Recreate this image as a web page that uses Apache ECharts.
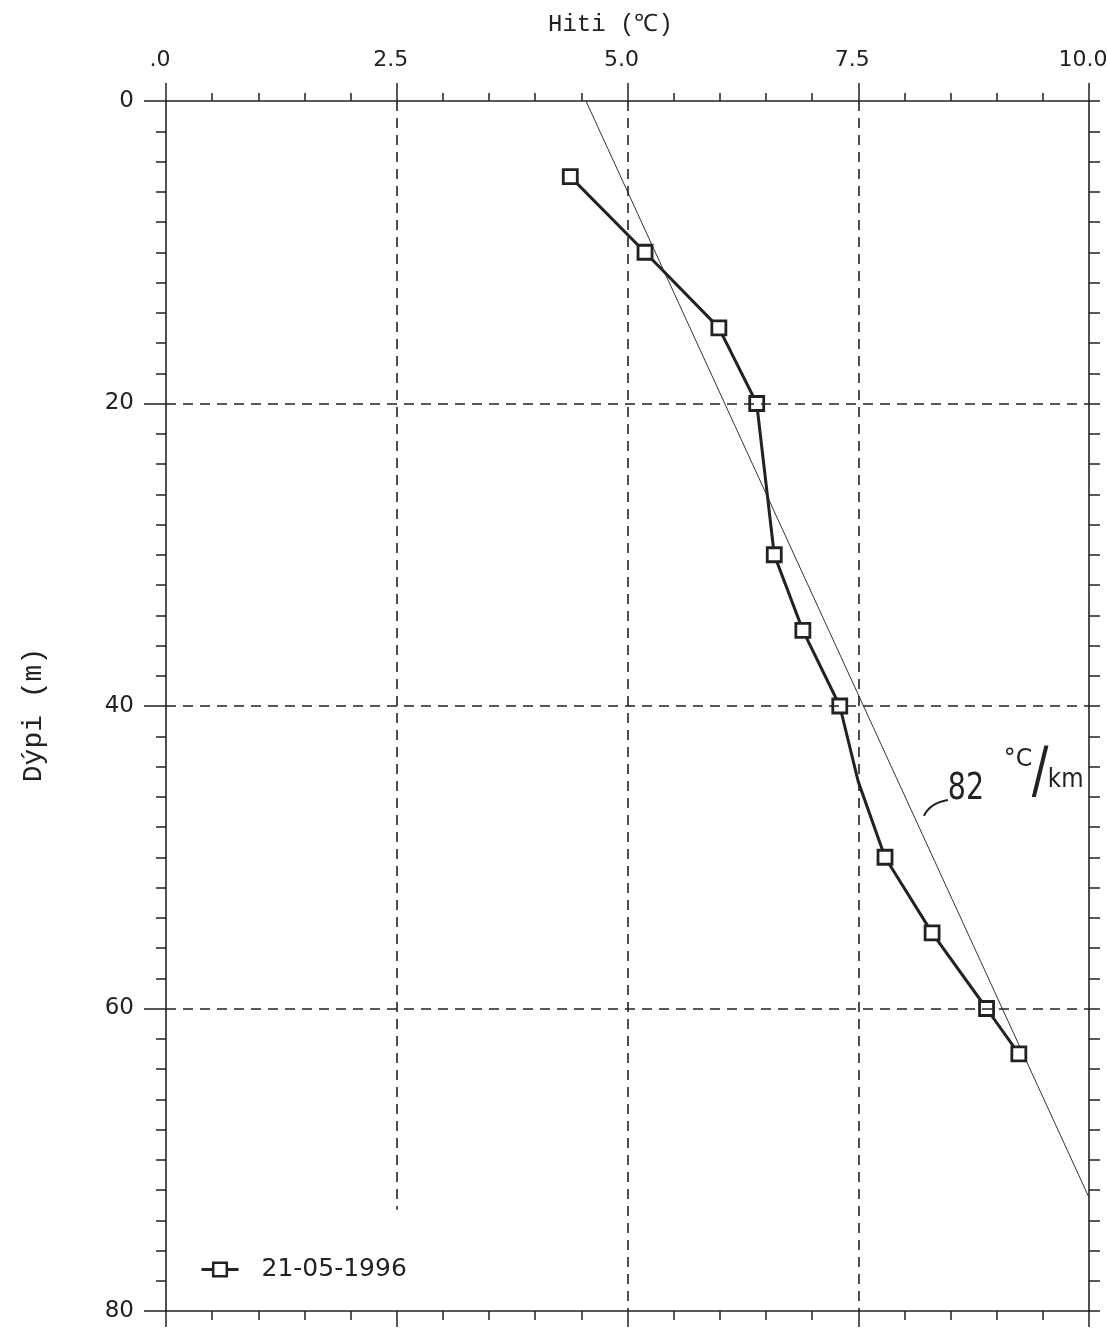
<!DOCTYPE html>
<html>
<head>
<meta charset="utf-8">
<script src="https://cdn.jsdelivr.net/npm/echarts@6/dist/echarts.min.js"></script>
<style>
  html, body { margin: 0; padding: 0; background: #fff; }
  #chart { width: 1107px; height: 1328px; }
</style>
</head>
<body>
<div id="chart"></div>
<script>
// measured temperature profile, 21-05-1996
const temps  = [4.38, 5.19, 5.99, 6.40, 6.59, 6.90, 7.30, 7.50, 7.79, 8.30, 8.89, 9.24];
const depths = [5, 10, 15, 20, 30, 35, 40, 45, 50, 55, 60, 63];
const unmarkedDepths = [45]; // bend in the line with no square drawn

// hand drawn gradient line (82 C/km)
const fitTemps  = [4.55, 10.0];
const fitDepths = [0, 72.5];

const tempTicks = [0, 2.5, 5, 7.5, 10];
const depthTicks = [0, 20, 40, 60, 80];
const vGridTemps = [2.5, 5, 7.5];
const vGridEnds  = [73.3, 80, 80];
const hGridDepths = [20, 40, 60];
const noteAt = [8.2, 47.2];

const ink = '#222';
const labelFont = 'DejaVu Sans';
const monoFont = 'Liberation Mono';

const profile = temps.map((t, i) => {
  const item = { value: [t, depths[i]] };
  if (unmarkedDepths.includes(depths[i])) item.symbol = 'none';
  return item;
});
const fit = fitTemps.map((t, i) => [t, fitDepths[i]]);
const gridLines = vGridTemps.map((t, i) => [{ coord: [t, 0] }, { coord: [t, vGridEnds[i]] }])
  .concat(hGridDepths.map(d => [{ coord: [tempTicks[0], d] }, { coord: [tempTicks[tempTicks.length - 1], d] }]));

const chart = echarts.init(document.getElementById('chart'));

const xBase = {
  type: 'value', min: tempTicks[0], max: tempTicks[tempTicks.length - 1], interval: 2.5,
  axisLine: { show: true, onZero: false, lineStyle: { color: ink, width: 1.6 } },
  splitLine: { show: false }
};
const yBase = {
  type: 'value', inverse: true, min: depthTicks[0], max: depthTicks[depthTicks.length - 1], interval: 20,
  axisLine: { show: true, onZero: false, lineStyle: { color: ink, width: 1.6 } },
  splitLine: { show: false }
};

chart.setOption({
  animation: false,
  backgroundColor: '#fff',
  title: {
    text: 'Hiti (℃)', left: 543, top: 8,
    textStyle: { fontFamily: monoFont, fontSize: 24, fontWeight: 'normal', color: ink }
  },
  grid: { left: 166, right: 18, top: 101, bottom: 17, containLabel: false, outerBoundsMode: 'none' },
  legend: {
    left: 195, top: 1252, itemWidth: 37, itemHeight: 17,
    data: ['21-05-1996'],
    lineStyle: { width: 3, color: ink },
    itemStyle: { color: '#fff', borderColor: ink, borderWidth: 2.5 },
    textStyle: { fontFamily: labelFont, fontSize: 25, color: ink, padding: [0, 0, 0, 18] }
  },
  xAxis: [
    Object.assign({}, xBase, {
      position: 'top',
      axisTick: { show: true, inside: false, length: 18, lineStyle: { color: ink, width: 1.5 } },
      minorTick: { show: true, splitNumber: 5, length: 8, lineStyle: { color: ink, width: 1.5 } },
      axisLabel: {
        margin: 30, fontFamily: labelFont, fontSize: 22, color: ink, padding: [0, 12, 0, 0],
        formatter: v => v === 0 ? '.0' : v.toFixed(1)
      }
    }),
    Object.assign({}, xBase, {
      position: 'bottom',
      axisTick: { show: true, inside: false, length: 16, lineStyle: { color: ink, width: 1.5 } },
      minorTick: { show: true, splitNumber: 5, length: 9, lineStyle: { color: ink, width: 1.5 } },
      axisLabel: { show: false }
    })
  ],
  yAxis: [
    Object.assign({}, yBase, {
      position: 'left',
      name: 'Dýpi (m)', nameLocation: 'middle', nameGap: 118, nameRotate: 90,
      nameTextStyle: { fontFamily: monoFont, fontSize: 28, color: ink, padding: [0, 18, 0, 0] },
      axisTick: { show: true, inside: false, length: 22, lineStyle: { color: ink, width: 1.5 } },
      minorTick: { show: true, splitNumber: 10, length: 10, lineStyle: { color: ink, width: 1.5 } },
      axisLabel: { margin: 32, fontFamily: labelFont, fontSize: 23, color: ink, padding: [10, 0, 0, 0] }
    }),
    Object.assign({}, yBase, {
      position: 'right',
      axisTick: { show: true, inside: false, length: 11, lineStyle: { color: ink, width: 1.5 } },
      minorTick: { show: true, splitNumber: 10, length: 11, lineStyle: { color: ink, width: 1.5 } },
      axisLabel: { show: false }
    })
  ],
  series: [
    {
      name: 'fit',
      type: 'line',
      data: fit,
      symbol: 'none',
      silent: true,
      lineStyle: { color: '#333', width: 1 },
      markLine: {
        silent: true, symbol: 'none', label: { show: false },
        lineStyle: { color: ink, width: 1.6, type: [10, 7] },
        data: gridLines
      },
      z: 1
    },
    {
      name: '21-05-1996',
      type: 'line',
      data: profile,
      symbol: 'rect',
      symbolSize: 14,
      itemStyle: { color: '#fff', borderColor: ink, borderWidth: 2.8 },
      lineStyle: { color: ink, width: 3 },
      z: 3
    }
  ]
});

// handwritten note beside the gradient line
const [nx, ny] = chart.convertToPixel({ xAxisIndex: 0, yAxisIndex: 0 }, noteAt);
const hand = { fontFamily: labelFont, fill: ink };
chart.setOption({
  graphic: [{
    type: 'group', x: nx + 1, y: ny + 1, silent: true,
    children: [
      { type: 'bezierCurve', shape: { x1: 0, y1: 0, x2: 24, y2: -16, cpx1: 6, cpy1: -13 },
        style: { stroke: ink, lineWidth: 2, fill: null } },
      { type: 'text', x: 24, y: -8, scaleX: 0.75,
        style: Object.assign({ text: '82', fontSize: 38, textVerticalAlign: 'bottom' }, hand) },
      { type: 'text', x: 80, y: -44, scaleX: 0.95,
        style: Object.assign({ text: '°C', fontSize: 25, textVerticalAlign: 'bottom' }, hand) },
      { type: 'text', x: 108, y: -10, scaleX: 0.8,
        style: Object.assign({ text: '/', fontSize: 62, textVerticalAlign: 'bottom' }, hand) },
      { type: 'text', x: 124, y: -22, scaleX: 0.85,
        style: Object.assign({ text: 'km', fontSize: 27, textVerticalAlign: 'bottom' }, hand) }
    ]
  }]
});
</script>
</body>
</html>
